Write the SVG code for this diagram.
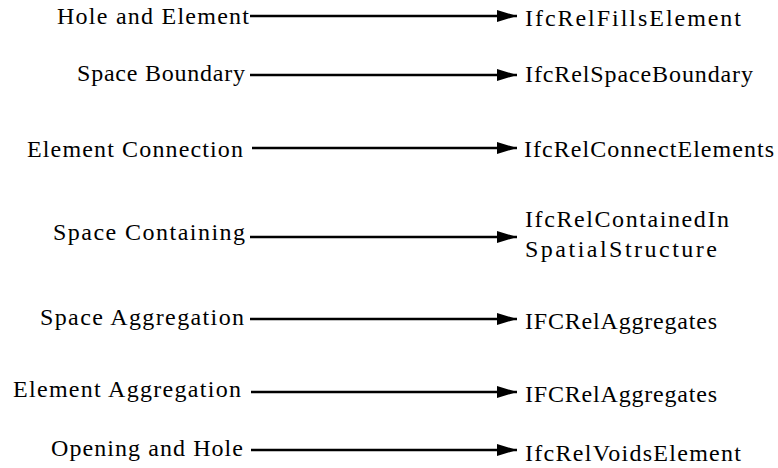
<svg xmlns="http://www.w3.org/2000/svg" width="778" height="468" viewBox="0 0 778 468">
<style>
text{font-family:"Liberation Serif","Noto Serif CJK SC","Noto Sans CJK SC",serif;font-size:24px;fill:#000}
.c line{stroke:#000;stroke-width:2.6;marker-end:url(#ah)}
</style>
<defs>
<marker id="ah" viewBox="0 0 20 12" markerWidth="20" markerHeight="12" refX="20" refY="6" orient="auto" markerUnits="userSpaceOnUse">
<path d="M0,0 L20,6 L0,12 z" fill="#000"/>
</marker>
</defs>
<rect width="778" height="468" fill="#fff"/>
<g id="src-hole-element"><text x="57" y="24" textLength="192" lengthAdjust="spacing">Hole and Element</text></g>
<g id="src-space-boundary"><text x="77" y="81" textLength="168" lengthAdjust="spacing">Space Boundary</text></g>
<g id="src-element-connection"><text x="27" y="157" textLength="216" lengthAdjust="spacing">Element Connection</text></g>
<g id="src-space-containing"><text x="53" y="240" textLength="192" lengthAdjust="spacing">Space Containing</text></g>
<g id="src-space-aggregation"><text x="40" y="325" textLength="204" lengthAdjust="spacing">Space Aggregation</text></g>
<g id="src-element-aggregation"><text x="13" y="397" textLength="228" lengthAdjust="spacing">Element Aggregation</text></g>
<g id="src-opening-hole"><text x="51" y="456" textLength="192" lengthAdjust="spacing">Opening and Hole</text></g>

<g id="dst-fills"><text x="525" y="26" textLength="216" lengthAdjust="spacing">IfcRelFillsElement</text></g>
<g id="dst-space-boundary"><text x="525" y="82" textLength="228" lengthAdjust="spacing">IfcRelSpaceBoundary</text></g>
<g id="dst-connect"><text x="524" y="157" textLength="250" lengthAdjust="spacing">IfcRelConnectElements</text></g>
<g id="dst-contained"><text x="525" y="227" textLength="204" lengthAdjust="spacing">IfcRelContainedIn</text><text x="525" y="257" textLength="192" lengthAdjust="spacing">SpatialStructure</text></g>
<g id="dst-aggregates-space"><text x="525" y="329" textLength="192" lengthAdjust="spacing">IFCRelAggregates</text></g>
<g id="dst-aggregates-element"><text x="525" y="402" textLength="192" lengthAdjust="spacing">IFCRelAggregates</text></g>
<g id="dst-voids"><text x="525" y="461" textLength="216" lengthAdjust="spacing">IfcRelVoidsElement</text></g>

<g id="connectors" class="c">
<line x1="250" y1="16" x2="517" y2="16"/>
<line x1="250" y1="75" x2="517" y2="75"/>
<line x1="252" y1="148" x2="517" y2="148"/>
<line x1="250" y1="237" x2="517" y2="237"/>
<line x1="250" y1="319" x2="517" y2="319"/>
<line x1="251" y1="392" x2="517" y2="392"/>
<line x1="251" y1="450" x2="517" y2="450"/>
</g>
</svg>
